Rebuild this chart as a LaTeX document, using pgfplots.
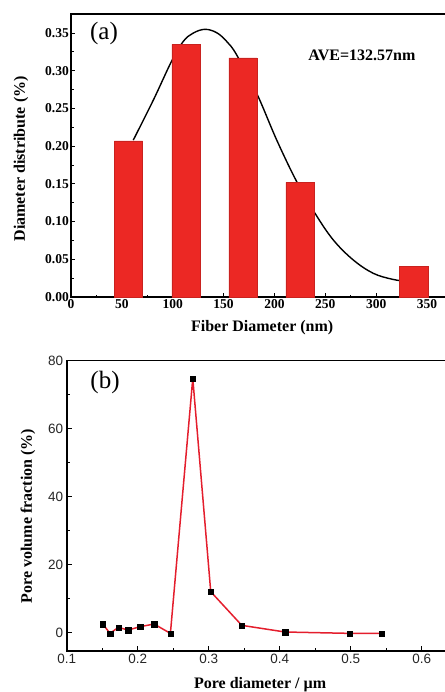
\documentclass[border=0pt]{standalone}
\usepackage{fontspec}
\setmainfont{Liberation Serif}
\setsansfont{Liberation Sans}
\usepackage{pgfplots}
\pgfplotsset{compat=1.18}
\definecolor{barred}{RGB}{236,40,36}
\definecolor{linered}{RGB}{228,30,45}
\begin{document}
\begin{tikzpicture}
% ---------- panel (a)
\begin{axis}[
  at={(71pt,-297pt)}, anchor=south west, scale only axis,
  width=380pt, height=283pt,
  xmin=0, xmax=373.6, ymin=0, ymax=0.3753,
  axis line style={line width=1.6pt},
  xtick={0,50,...,350}, minor xtick={25,75,...,375},
  ytick={0,0.05,...,0.351}, minor ytick={0.025,0.075,...,0.376},
  xtick pos=bottom, ytick pos=left,
  major tick length=4pt, minor tick length=2.5pt,
  tick style={black, line width=1pt},
  /pgf/number format/assume math mode=true,
  yticklabel style={/pgf/number format/fixed,/pgf/number format/precision=2,/pgf/number format/fixed zerofill},
  scaled y ticks=false,
  ticklabel style={font=\fontsize{13.5}{15}\selectfont\bfseries},
  xticklabel style={inner sep=2pt},
  yticklabel style={inner sep=2pt},
  xlabel={Fiber Diameter (nm)},
  ylabel={Diameter distribute (\%)},
  every axis x label/.style={at={(axis description cs:0.503,-0.1095)}, anchor=center, font=\fontsize{16}{18}\selectfont\bfseries},
  every axis y label/.style={at={(axis description cs:-0.1316,0.488)}, rotate=90, anchor=center, font=\fontsize{16}{18}\selectfont\bfseries},
  clip=false,
]
\addplot[black, line width=1.4pt, smooth, tension=0.6] coordinates {
  (61.2,0.208) (80.9,0.261) (99.0,0.313) (110.4,0.339) (120.2,0.350) (131.7,0.355)
  (143.2,0.3505) (153.0,0.339) (162.9,0.321) (182.6,0.270) (202.3,0.208)
  (221.9,0.153) (239.9,0.111) (257.9,0.0756) (277.6,0.049) (297.2,0.0314)
  (316,0.0235) (331.3,0.0203)};
\addplot[ybar, bar width=27.7, bar shift=0pt, fill=barred, draw=barred!85!black, line width=0.4pt]
  coordinates {(56.5,0.207) (113,0.335) (169,0.317) (225,0.152) (337,0.041)};
\node[font=\fontsize{16}{18}\selectfont\bfseries] at (axis cs:286,0.321) {AVE=132.57nm};
\node[font=\fontsize{25}{27}\selectfont] at (axis cs:32.4,0.3499) {(a)};
\end{axis}
% ---------- panel (b)
\begin{axis}[
  at={(66.7pt,-650.7pt)}, anchor=south west, scale only axis,
  width=380pt, height=290pt,
  xmin=0.1, xmax=0.635, ymin=-5.3, ymax=80,
  axis line style={line width=1.6pt},
  xtick={0.1,0.2,...,0.61}, minor xtick={0.15,0.25,...,0.66},
  ytick={0,20,...,80}, minor ytick={10,30,...,70},
  xtick pos=bottom, ytick pos=left,
  major tick length=5pt, minor tick length=3pt,
  tick style={black, line width=1pt},
  /pgf/number format/assume math mode=true,
  xticklabel style={/pgf/number format/fixed,/pgf/number format/precision=1},
  scaled x ticks=false,
  ticklabel style={font=\fontsize{13.5}{15}\selectfont\sffamily, text=black!85},
  xlabel={Pore diameter / µm},
  ylabel={Pore volume fraction (\%)},
  every axis x label/.style={at={(axis description cs:0.509,-0.118)}, anchor=center, font=\fontsize{16}{18}\selectfont\bfseries},
  every axis y label/.style={at={(axis description cs:-0.102,0.464)}, rotate=90, anchor=center, font=\fontsize{16}{18}\selectfont\bfseries},
  clip=false,
]
\addplot[linered, line width=1.5pt, mark=square*, mark size=2.6pt,
  mark options={black, fill=black, line width=0.2pt}] coordinates {
  (0.1507,2.55) (0.161,-0.2) (0.1728,1.57) (0.1864,0.78) (0.2033,1.76)
  (0.223,2.55) (0.246,-0.2) (0.2775,74.8) (0.3028,12.06) (0.3465,2.16)
  (0.4075,0.2) (0.4986,-0.2) (0.543,-0.2)};
\node[font=\fontsize{25}{27}\selectfont] at (axis cs:0.154,73.7) {(b)};
\end{axis}
\pgfresetboundingbox
\path[use as bounding box] (0pt,0pt) rectangle (444pt,-692pt);
\end{tikzpicture}
\end{document}
